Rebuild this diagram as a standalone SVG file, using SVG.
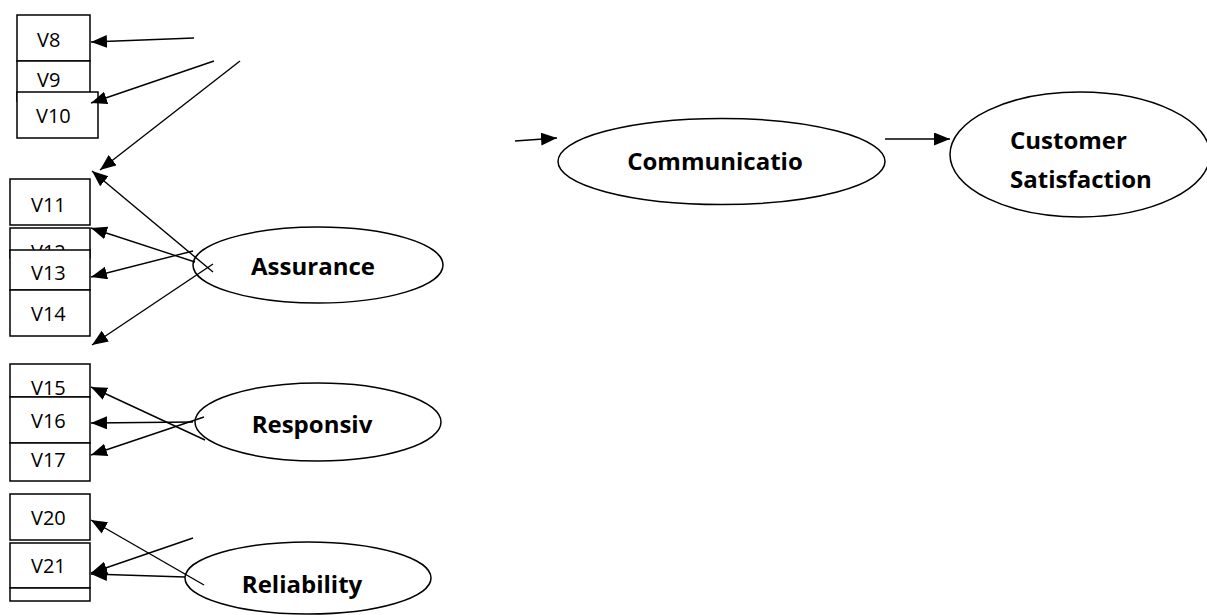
<svg xmlns="http://www.w3.org/2000/svg" width="1207" height="615" viewBox="0 0 1207 615">
<style>
.box{fill:#fff;stroke:#000;stroke-width:1.5}
.ell{fill:#fff;stroke:#000;stroke-width:1.5}
.vt{font-family:"Open Sans","Liberation Sans",sans-serif;font-size:20px;fill:#000}
.bt{font-family:"Open Sans","Liberation Sans",sans-serif;font-size:24px;font-weight:bold;fill:#000}
.cn line{stroke:#000;stroke-width:1.4;marker-end:url(#ah)}
.cn line.plain{marker-end:none}
</style>
<defs>
<marker id="ah" markerUnits="userSpaceOnUse" markerWidth="17" markerHeight="14" refX="16" refY="6.5" orient="auto">
<path d="M0,0 L16,6.5 L0,13 z" fill="#000"/>
</marker>
</defs>
<rect width="1207" height="615" fill="#fff"/>
<g id="V8"><rect class="box" x="17" y="15" width="73" height="46"/><text class="vt" x="37" y="47">V8</text></g>
<g id="V9"><rect class="box" x="17" y="61" width="73" height="40"/><text class="vt" x="37" y="87">V9</text></g>
<g id="V10"><rect class="box" x="17" y="92" width="81" height="46"/><text class="vt" x="36" y="123">V10</text></g>
<g id="V11"><rect class="box" x="10" y="179" width="80" height="46"/><text class="vt" x="31" y="212">V11</text></g>
<g id="V12"><rect class="box" x="10" y="228" width="80" height="30"/><text class="vt" x="31" y="259">V12</text></g>
<g id="V13"><rect class="box" x="10" y="250" width="80" height="40"/><text class="vt" x="31" y="280">V13</text></g>
<g id="V14"><rect class="box" x="10" y="290" width="80" height="46"/><text class="vt" x="31" y="321">V14</text></g>
<g id="V15"><rect class="box" x="10" y="364" width="80" height="33"/><text class="vt" x="31" y="395">V15</text></g>
<g id="V16"><rect class="box" x="10" y="397" width="80" height="46"/><text class="vt" x="31" y="428">V16</text></g>
<g id="V17"><rect class="box" x="10" y="443" width="80" height="38"/><text class="vt" x="31" y="467">V17</text></g>
<g id="V20"><rect class="box" x="10" y="494" width="80" height="46"/><text class="vt" x="31" y="525">V20</text></g>
<g id="V21"><rect class="box" x="10" y="543" width="80" height="45"/><text class="vt" x="31" y="573">V21</text></g>
<g id="blank"><rect class="box" x="10" y="588" width="80" height="13"/></g>
<g id="assurance"><ellipse class="ell" cx="318" cy="265" rx="125" ry="38"/><text class="bt" x="313" y="275" text-anchor="middle">Assurance</text></g>
<g id="responsiv"><ellipse class="ell" cx="318" cy="422" rx="123" ry="39"/><text class="bt" x="312" y="433" text-anchor="middle">Responsiv</text></g>
<g id="reliability"><ellipse class="ell" cx="308" cy="578" rx="123" ry="36"/><text class="bt" x="302" y="593" text-anchor="middle">Reliability</text></g>
<g id="communicatio"><ellipse class="ell" cx="721.5" cy="161.5" rx="163.5" ry="43"/><text class="bt" x="715" y="170" text-anchor="middle">Communicatio</text></g>
<g id="satisfaction"><ellipse class="ell" cx="1080" cy="154.5" rx="130" ry="62.5"/><text class="bt" x="1010" y="149">Customer</text><text class="bt" x="1010" y="188">Satisfaction</text></g>
<g id="connectors" class="cn">
<line x1="194" y1="38" x2="91" y2="42"/>
<line x1="214" y1="61" x2="91" y2="103"/>
<line x1="240" y1="61" x2="100" y2="170"/>
<line x1="213" y1="272" x2="92" y2="171"/>
<line x1="195" y1="262" x2="91" y2="228"/>
<line x1="193" y1="251" x2="91" y2="277"/>
<line x1="213" y1="264" x2="92" y2="345"/>
<line x1="205" y1="440" x2="91" y2="387"/>
<line x1="193" y1="422" x2="91" y2="423"/>
<line x1="204" y1="417" x2="91" y2="455"/>
<line x1="204" y1="585" x2="91" y2="520"/>
<line x1="193" y1="538" x2="91" y2="573"/>
<line x1="185" y1="577" x2="91" y2="574"/>
<line x1="515" y1="141" x2="557" y2="138"/>
<line x1="885" y1="139" x2="950" y2="139"/>
</g>
</svg>
